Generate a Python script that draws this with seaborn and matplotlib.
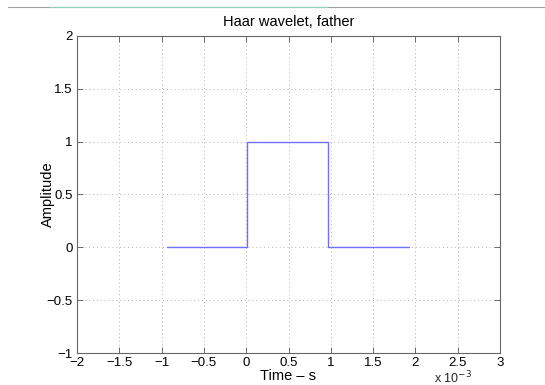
import matplotlib
matplotlib.use("Agg")
import matplotlib.pyplot as plt
import seaborn as sns
import pandas as pd
from matplotlib.lines import Line2D

time_ms = [-0.94, 0.01, 0.01, 0.97, 0.97, 1.93]
amplitude = [0, 0, 1, 1, 0, 0]
x_ticks = [-2, -1.5, -1, -0.5, 0, 0.5, 1, 1.5, 2, 2.5, 3]
y_ticks = [-1, -0.5, 0, 0.5, 1, 1.5, 2]

sns.set_style("ticks")
plt.rcParams['font.family'] = ['Liberation Sans', 'DejaVu Sans']
plt.rcParams['font.size'] = 9.5

df = pd.DataFrame({"t": [v * 1e-3 for v in time_ms], "a": amplitude})

fig = plt.figure(figsize=(5.45, 3.85), dpi=100)
ax = fig.add_axes([77/545, 1-353/385, (500-77)/545, (353-36)/385])
sns.lineplot(data=df, x="t", y="a", ax=ax, color="#7070ff", linewidth=1.0,
             sort=False, estimator=None)

ax.set_xlim(-2e-3, 3e-3)
ax.set_ylim(-1, 2)
ax.set_xticks([v * 1e-3 for v in x_ticks])
ax.set_xticklabels([("%g" % v).replace("-", "\u2212") for v in x_ticks])
ax.set_yticks(y_ticks)
ax.set_yticklabels([("%g" % v).replace("-", "\u2212") for v in y_ticks])
ax.tick_params(direction="in", length=4, width=0.6, top=True, right=True,
               color="#555555", labelsize=9.5, pad=3, labelcolor="black")
for s in ax.spines.values():
    s.set_visible(True)
    s.set_color("#666666")
    s.set_linewidth(0.8)
ax.grid(True, linestyle=(0, (1, 3)), color="#b0b0b0", linewidth=0.7)
ax.set_xlabel("Time \u2013 s", fontsize=10.5, color="black")
ax.set_ylabel("Amplitude", fontsize=10.5, color="black")
ax.yaxis.set_label_coords(-0.052, 0.5)
ax.xaxis.set_label_coords(0.5, -0.05)
ax.set_title("Haar wavelet, father", fontsize=10.5, pad=7, color="black")
fig.text(472/545, 1-378/385, r"x 10$^{-3}$", ha="right", va="center", fontsize=9)

fig.add_artist(Line2D([8/545, 1], [1-7/385, 1-7/385], color="#a0a0a0", linewidth=0.8, transform=fig.transFigure))
fig.add_artist(Line2D([50/545, 327/545], [1-7/385, 1-7/385], color="#8fcfc0", linewidth=0.8, transform=fig.transFigure))

fig.savefig("out.png", dpi=100, facecolor="white")
